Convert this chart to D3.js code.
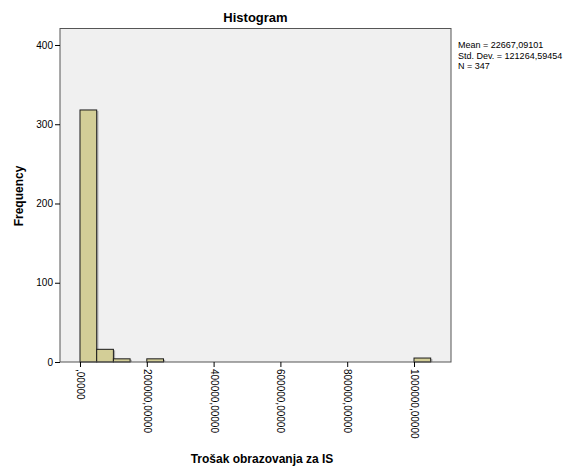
<!DOCTYPE html>
<html><head><meta charset="utf-8">
<script src="https://cdn.jsdelivr.net/npm/d3@7"></script>
<style>body{margin:0;background:#fff;} text{font-family:Arial,"Liberation Sans",sans-serif;}</style>
</head><body><svg id="c" width="576" height="466"></svg>
<script>
const binStarts = [0, 50000, 100000, 200000, 1000000];
const binWidth = 50000;
const frequencies = [318, 16, 4, 4, 5];
const xTicks = [0, 200000, 400000, 600000, 800000, 1000000];
const xTickLabels = [",00000", "200000,00000", "400000,00000", "600000,00000", "800000,00000", "1000000,00000"];
const yTicks = [0, 100, 200, 300, 400];
const statsLines = ["Mean = 22667,09101", "Std. Dev. = 121264,59454", "N = 347"];
const title = "Histogram", xTitle = "Trošak obrazovanja za IS", yTitle = "Frequency";

const svg = d3.select("#c");
const L = 60, R = 451, T = 28.5, B = 362;
const x = d3.scaleLinear().domain([-59880, 1110778]).range([L, R]);
const y = d3.scaleLinear().domain([0, 420.8]).range([B, T]);

svg.append("rect").attr("x", L).attr("y", T).attr("width", R - L).attr("height", B - T)
  .attr("fill", "#f0f0f0");

const bars = binStarts.map((s, i) => ({s, f: frequencies[i]}));
svg.selectAll("rect.sh").data(bars).enter().append("rect")
  .attr("x", d => x(d.s + binWidth) + 0.5).attr("y", d => y(d.f) + 1)
  .attr("width", 1.2).attr("height", d => B - y(d.f) - 1).attr("fill", "#a9a9a9");
svg.selectAll("rect.bar").data(bars).enter().append("rect")
  .attr("x", d => x(d.s)).attr("y", d => y(d.f))
  .attr("width", d => x(d.s + binWidth) - x(d.s)).attr("height", d => B - y(d.f))
  .attr("fill", "#d3ce97").attr("stroke", "#1a1a1a").attr("stroke-width", 1);

svg.append("rect").attr("x", L).attr("y", T).attr("width", R - L).attr("height", B - T)
  .attr("fill", "none").attr("stroke", "#555").attr("stroke-width", 1);

const yAxis = svg.append("g").attr("transform", `translate(${L},0)`)
  .call(d3.axisLeft(y).tickValues(yTicks).tickSize(5).tickPadding(2).tickFormat(d3.format("d")));
yAxis.select(".domain").remove();
yAxis.selectAll("text").attr("font-size", 10).attr("fill", "#000").attr("font-family", "Arial, 'Liberation Sans', sans-serif");
yAxis.selectAll("line").attr("stroke", "#000");

const xAxis = svg.append("g").attr("transform", `translate(0,${B})`)
  .call(d3.axisBottom(x).tickValues(xTicks).tickSize(5).tickFormat((d, i) => xTickLabels[i]));
xAxis.select(".domain").remove();
xAxis.selectAll("line").attr("stroke", "#000");
xAxis.selectAll("text").attr("font-size", 10).attr("fill", "#000")
  .attr("font-family", "Arial, 'Liberation Sans', sans-serif")
  .attr("transform", "rotate(90)").attr("x", 7).attr("y", 0).attr("dy", "0.35em")
  .attr("text-anchor", "start");

svg.append("text").attr("x", (L + R) / 2).attr("y", 22).attr("text-anchor", "middle")
  .attr("font-size", 13).attr("font-weight", "bold").text(title);
svg.append("text").attr("x", 262).attr("y", 463).attr("text-anchor", "middle")
  .attr("font-size", 12).attr("font-weight", "bold").text(xTitle);
svg.append("text").attr("transform", `translate(23,196) rotate(-90)`).attr("text-anchor", "middle")
  .attr("font-size", 12).attr("font-weight", "bold").text(yTitle);

svg.selectAll("text.st").data(statsLines).enter().append("text")
  .attr("x", 458).attr("y", (d, i) => 48 + i * 10.5).attr("font-size", 9).text(d => d);
</script></body></html>
